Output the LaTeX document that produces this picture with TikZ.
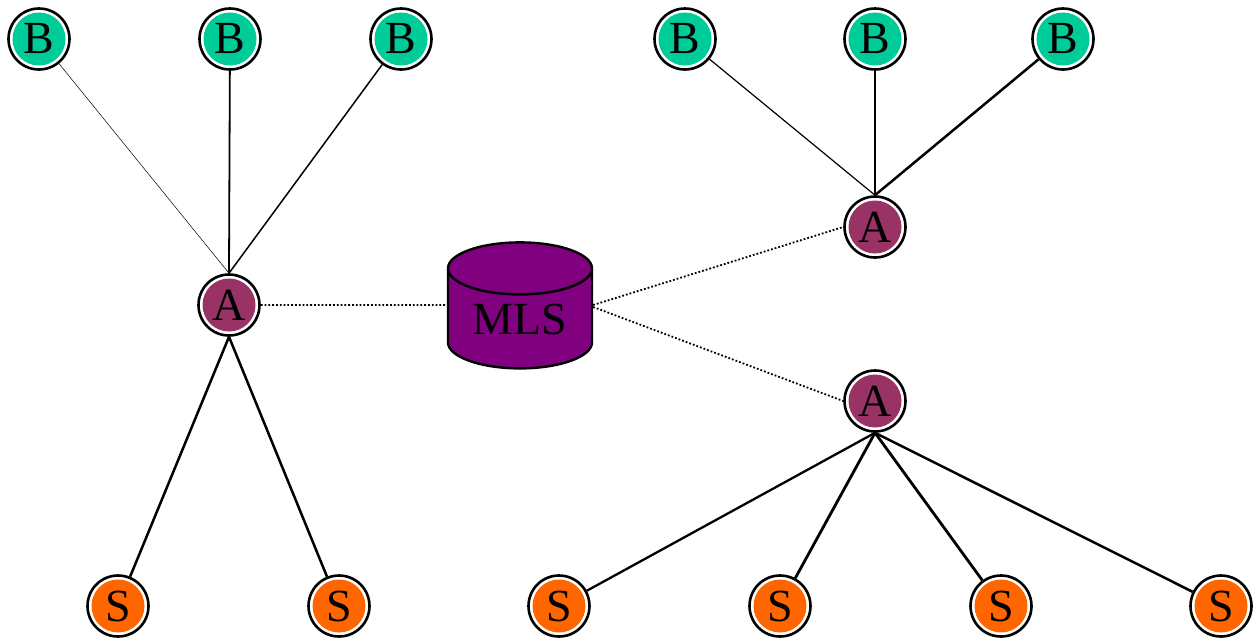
\documentclass[tikz,border=0pt]{standalone}
\usepackage{fontspec}
\setmainfont{Liberation Serif}
\usetikzlibrary{shapes.geometric}
\definecolor{bcol}{HTML}{00CC99}
\definecolor{acol}{HTML}{993366}
\definecolor{scol}{HTML}{FF6600}
\definecolor{mcol}{HTML}{800080}
\tikzset{
  ring/.style={circle, draw=black, line width=2.6pt, fill=white, minimum size=61pt, inner sep=0pt,
    font=\fontsize{46}{46}\selectfont,
    path picture={\fill[#1] (path picture bounding box.center) circle (26.5pt);}},
  bnode/.style={ring=bcol},
  anode/.style={ring=acol},
  snode/.style={ring=scol},
  dbline/.style={line width=1.8pt, dotted},
}
\begin{document}
\begin{tikzpicture}[x=1pt,y=-1pt]
\useasboundingbox (0,0) rectangle (1256,638);
% left group
\node[bnode] (b1) at (39,39) {B};
\node[bnode] (b2) at (230,39) {B};
\node[bnode] (b3) at (401,39) {B};
\node[anode] (a1) at (229,305) {A};
\node[snode] (s1) at (118,606) {S};
\node[snode] (s2) at (339,606) {S};
% right group
\node[bnode] (b4) at (685,39) {B};
\node[bnode] (b5) at (875,39) {B};
\node[bnode] (b6) at (1063,39) {B};
\node[anode] (a2) at (875,227) {A};
\node[anode] (a3) at (875,401) {A};
\node[snode] (s3) at (559,606) {S};
\node[snode] (s4) at (780,606) {S};
\node[snode] (s5) at (1001,606) {S};
\node[snode] (s6) at (1221,606) {S};
% MLS
\node[cylinder, shape border rotate=90, aspect=0.55, draw=black, line width=2.4pt, fill=mcol,
  minimum width=144pt, minimum height=126pt, inner sep=0pt,
  font=\fontsize{46}{46}\selectfont] (mls) at (520,319) {\raisebox{-4pt}{MLS}};
% edges
\draw[line width=0.5pt] (b1) -- (a1.north);
\draw[line width=1.8pt] (b2) -- (a1.north);
\draw[line width=1.5pt] (b3) -- (a1.north);
\draw[line width=2.5pt] (a1.south) -- (s1);
\draw[line width=2.5pt] (a1.south) -- (s2);
\draw[line width=1.2pt] (b4) -- (a2.north);
\draw[line width=1.8pt] (b5) -- (a2.north);
\draw[line width=2.5pt] (b6) -- (a2.north);
\draw[line width=2.3pt] (a3.south) -- (s3);
\draw[line width=2.8pt] (a3.south) -- (s4);
\draw[line width=2.8pt] (a3.south) -- (s5);
\draw[line width=2.5pt] (a3.south) -- (s6);
% dotted links
\draw[dbline] (a1.east) -- ([yshift=14pt]mls.west);
\draw[dbline] ([yshift=14pt]mls.east) -- (a2.west);
\draw[dbline] ([yshift=12pt]mls.east) -- (a3.west);
\end{tikzpicture}
\end{document}
